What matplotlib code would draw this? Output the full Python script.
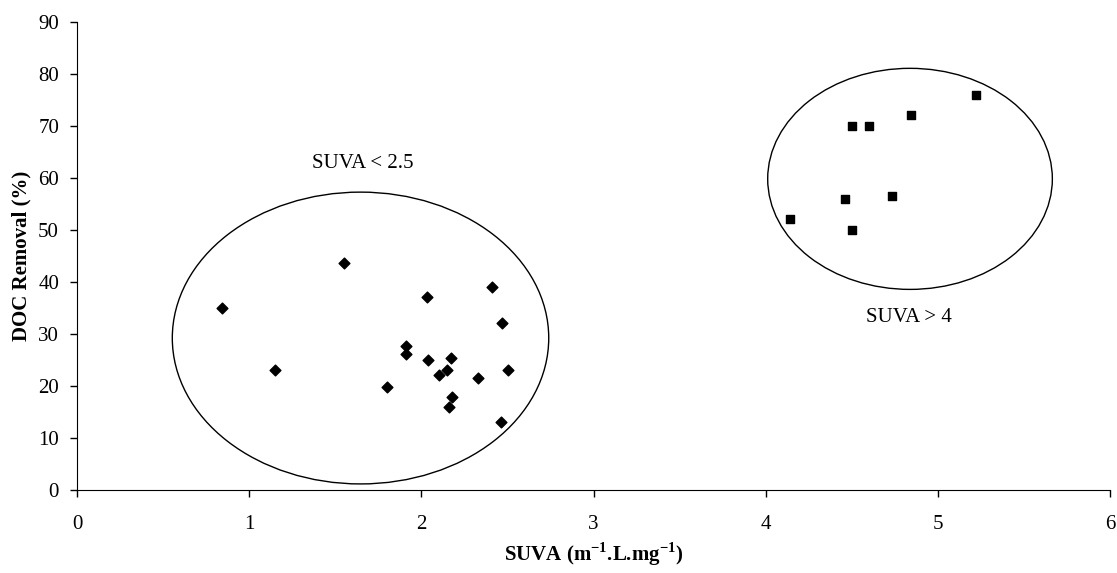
import numpy as np
import matplotlib.pyplot as plt
from matplotlib.patches import Ellipse

plt.rcParams['font.family'] = ['Liberation Serif', 'DejaVu Serif']
plt.rcParams['mathtext.fontset'] = 'custom'
plt.rcParams['mathtext.rm'] = 'Liberation Serif'
plt.rcParams['mathtext.bf'] = 'Liberation Serif:bold'

# low SUVA waters (diamonds)
suva_low = [0.84, 1.15, 1.55, 1.80, 1.91, 1.91, 2.03, 2.04, 2.10, 2.15,
            2.17, 2.18, 2.16, 2.33, 2.41, 2.47, 2.50, 2.46]
doc_low = [35.0, 23.1, 43.7, 19.8, 27.7, 26.1, 37.1, 25.0, 22.0, 23.1,
           25.3, 17.8, 16.0, 21.5, 39.0, 32.0, 23.0, 13.0]

# high SUVA waters (squares)
suva_high = [4.14, 4.50, 4.60, 4.84, 5.22, 4.46, 4.73, 4.50]
doc_high = [52.0, 70.0, 70.0, 72.0, 76.0, 56.0, 56.5, 50.0]

fig = plt.figure(figsize=(11.17, 5.73), dpi=100)
ax = fig.add_axes([0.069, 0.145, 0.925, 0.817])

ax.scatter(suva_low, doc_low, marker='D', s=30, color='black', zorder=3)
ax.scatter(suva_high, doc_high, marker='s', s=40, color='black', zorder=3)

# group outlines
ax.add_patch(Ellipse((1.646, 29.2), 2.186, 56.1, fill=False,
                     edgecolor='black', linewidth=1.0))
ax.add_patch(Ellipse((4.837, 59.8), 1.653, 42.5, fill=False,
                     edgecolor='black', linewidth=1.0))

ax.text(1.66, 62.7, 'SUVA < 2.5', ha='center', va='center', fontsize=15)
ax.text(4.83, 33.1, 'SUVA > 4', ha='center', va='center', fontsize=15)

ax.set_xlim(0, 6)
ax.set_ylim(0, 90)
ax.set_xticks(np.arange(0, 7, 1))
ax.set_yticks(np.arange(0, 100, 10))
ax.tick_params(direction='out', length=5, width=1, labelsize=15)
ax.tick_params(axis='x', pad=13)
ax.tick_params(axis='y', pad=8)
for side in ['top', 'right']:
    ax.spines[side].set_visible(False)

ax.set_xlabel(r'SUVA (m$^{\mathbf{-1}}$.L.mg$^{\mathbf{-1}}$)',
              fontsize=15, fontweight='bold', labelpad=5)
ax.set_ylabel('DOC Removal (%)', fontsize=15, fontweight='bold', labelpad=5)

fig.savefig('out.png', dpi=100)
